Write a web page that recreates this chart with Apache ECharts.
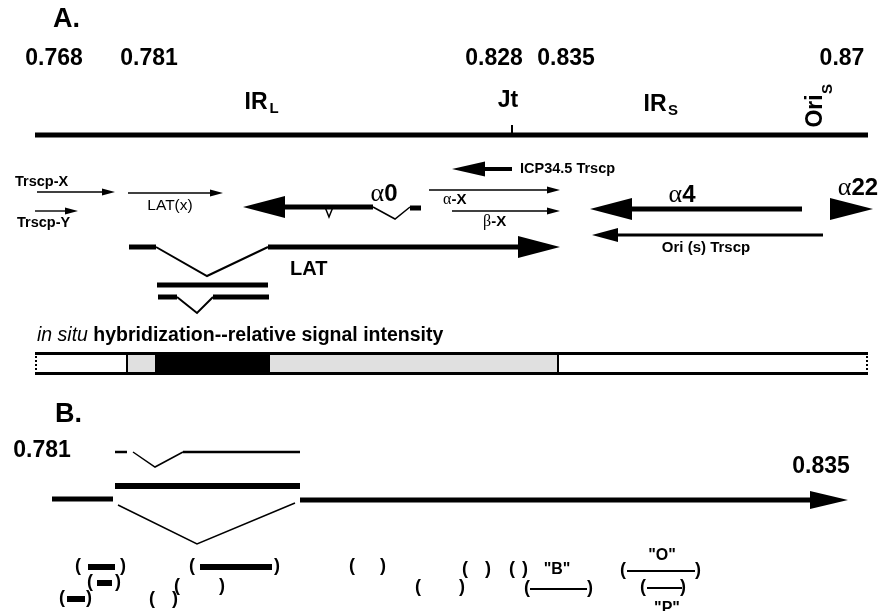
<!DOCTYPE html>
<html>
<head>
<meta charset="utf-8">
<script src="https://cdn.jsdelivr.net/npm/echarts@6/dist/echarts.min.js"></script>
<style>
html, body { margin: 0; background: #fff; }
#chart { width: 878px; height: 611px; }
</style>
</head>
<body>
<div id="chart"></div>
<script>
// schematic drawing units: x runs along the map, y runs down the page
var SANS = "'Liberation Sans', Arial, Helvetica, sans-serif";
var SERIF = "'Liberation Serif', 'DejaVu Serif', serif";

// map-unit labels over the genome line (panel A)
var mapLabels = ['0.768', '0.781', '0.828', '0.835', '0.87'];
var mapLabelX = [54, 149, 494, 566, 842];

// transcripts / genes as arrows: name, tail, tip, row, weight
var transcripts = [
  ['Trscp-X', 37, 115, 192, 'thin'],
  ['Trscp-Y', 35, 78, 211, 'thin'],
  ['LAT(x)', 128, 223, 193, 'thin'],
  ['alpha0', 373, 243, 207, 'thick'],
  ['ICP34.5', 512, 452, 169, 'icp'],
  ['alpha-X', 429, 560, 190, 'thin'],
  ['beta-X', 452, 560, 211, 'thin'],
  ['LAT', 268, 560, 247, 'thick'],
  ['alpha4', 802, 590, 209, 'thick'],
  ['alpha22', 830, 873, 209, 'headOnly'],
  ['Ori(s)', 823, 592, 235, 'ori'],
  ['LAT B', 300, 848, 500, 'b']
];

// exons, introns and other plain strokes: name, points, weight
var segments = [
  ['genome', [[35, 135], [868, 135]], 'heavy'],
  ['Jt tick', [[512, 125], [512, 135]], 'tick'],
  ['alpha0 v', [[325, 207], [329, 217], [333, 207]], 'hair'],
  ['alpha0 intron', [[373, 207], [395, 219], [410, 207]], 'hair'],
  ['alpha0 exon', [[410, 208], [421, 208]], 'heavy'],
  ['LAT exon1', [[129, 247], [156, 247]], 'heavy'],
  ['LAT intron', [[156, 247], [207, 276], [268, 247]], 'intron'],
  ['probe 1', [[157, 285], [268, 285]], 'heavy'],
  ['probe 2a', [[158, 297], [177, 297]], 'heavy'],
  ['probe 2 intron', [[177, 297], [197, 313], [213, 297]], 'intron'],
  ['probe 2b', [[213, 297], [269, 297]], 'heavy'],
  ['B dash', [[115, 452], [127, 452]], 'mid'],
  ['B splice', [[133, 452], [155, 467], [183, 452]], 'hair'],
  ['B upper', [[183, 452], [300, 452]], 'mid'],
  ['B bar', [[115, 486], [300, 486]], 'bar'],
  ['B exon1', [[52, 499], [113, 499]], 'heavy'],
  ['B intron', [[118, 505], [197, 544], [295, 503]], 'hair']
];

// in situ hybridization signal strip (boundaries and level per block)
var insituEdges = [35, 127, 155, 270, 558, 868];
var insituLevel = ['none', 'low', 'high', 'low', 'none'];

// clones under panel B: left paren, right paren, row, insert, insert start, insert end
var clones = [
  [78, 123, 566, 'bar', 88, 115],
  [90, 118, 582, 'bar', 97, 112],
  [62, 89, 598, 'bar', 67, 85],
  [192, 277, 566, 'bar', 200, 272],
  [177, 222, 586, 'none'],
  [152, 175, 599, 'none'],
  [352, 383, 566, 'none'],
  [465, 488, 569, 'none'],
  [512, 525, 569, 'none'],
  [418, 462, 587, 'none'],
  [527, 590, 588, 'line', 530, 587],
  [623, 698, 570, 'line', 627, 695],
  [643, 683, 587, 'line', 647, 682]
];

// free text: text, x, y, style
var labels = [
  ['A.', 53, 20, 'panel'],
  ['IR', 256, 103, 'big'], ['L', 274, 109, 'sub'],
  ['Jt', 508, 101, 'big'],
  ['IR', 655, 105, 'big'], ['S', 673, 111, 'sub'],
  ['Ori', 816, 111, 'bigV'], ['S', 828, 89, 'subV'],
  ['Trscp-X', 15, 182, 'small'],
  ['Trscp-Y', 17, 223, 'small'],
  ['LAT(x)', 170, 206, 'smallC'],
  ['{g|\u03b1}0', 384, 194, 'greek'],
  ['ICP34.5 Trscp', 520, 169, 'small'],
  ['{g|\u03b1}-X', 443, 200, 'greekS'],
  ['{g|\u03b2}-X', 483, 222, 'greekS'],
  ['{g|\u03b1}4', 682, 195, 'greek'],
  ['{g|\u03b1}22', 858, 188, 'greek'],
  ['Ori (s) Trscp', 706, 248, 'smallB'],
  ['LAT', 290, 269, 'lat'],
  ['{i|in situ} hybridization--relative signal intensity', 37, 336, 'insitu'],
  ['B.', 55, 415, 'panel'],
  ['0.781', 42, 451, 'big'],
  ['0.835', 821, 467, 'big'],
  ['"B"', 557, 570, 'quote'],
  ['"O"', 662, 556, 'quote'],
  ['"P"', 667, 609, 'quote']
];

var arrowStyles = {
  thin: { line: 1.4, head: 13, half: 3.5 },
  icp: { line: 4, head: 33, half: 7.5 },
  ori: { line: 3, head: 26, half: 7 },
  thick: { line: 5, head: 42, half: 11 },
  headOnly: { line: 0, head: 43, half: 11 },
  b: { line: 5, head: 38, half: 9 }
};
var strokeWidths = { heavy: 5, bar: 6, mid: 2.5, intron: 2, hair: 1.5, tick: 2 };
var insituFill = { none: '#ffffff', low: '#e0e0e0', high: '#000000' };

var textStyles = {
  panel: { fontSize: 27, fontWeight: 'bold', align: 'left' },
  big: { fontSize: 23, fontWeight: 'bold', align: 'center' },
  sub: { fontSize: 15, fontWeight: 'bold', align: 'center' },
  bigV: { fontSize: 23, fontWeight: 'bold', align: 'center', rotate: true },
  subV: { fontSize: 15, fontWeight: 'bold', align: 'center', rotate: true },
  small: { fontSize: 14.5, fontWeight: 'bold', align: 'left' },
  smallC: { fontSize: 15.5, fontWeight: 'normal', align: 'center' },
  smallB: { fontSize: 15, fontWeight: 'bold', align: 'center' },
  greek: { fontSize: 24, fontWeight: 'bold', align: 'center', g: 26 },
  greekS: { fontSize: 15, fontWeight: 'bold', align: 'left', g: 16 },
  lat: { fontSize: 20, fontWeight: 'bold', align: 'left' },
  insitu: { fontSize: 19.5, fontWeight: 'bold', align: 'left' },
  quote: { fontSize: 16, fontWeight: 'bold', align: 'center' },
  paren: { fontSize: 18, fontWeight: 'bold', align: 'center' }
};

function textEl(api, text, x, y, key) {
  var st = textStyles[key];
  var p = api.coord([x, y]);
  return {
    type: 'text',
    x: p[0], y: p[1],
    rotation: st.rotate ? Math.PI / 2 : 0,
    style: {
      text: text,
      fontFamily: SANS,
      fontSize: st.fontSize,
      fontWeight: st.fontWeight,
      fill: '#000',
      align: st.align,
      verticalAlign: 'middle',
      rich: {
        g: { fontFamily: SERIF, fontSize: st.g || st.fontSize, fontWeight: 'normal', fill: '#000' },
        i: { fontFamily: SANS, fontSize: st.fontSize, fontStyle: 'italic', fontWeight: 'normal', fill: '#000' }
      }
    }
  };
}

var allLabels = labels.concat(mapLabels.map(function (t, i) { return [t, mapLabelX[i], 59, 'big']; }));

var option = {
  animation: false,
  backgroundColor: '#ffffff',
  grid: { left: 0, right: 0, top: 0, bottom: 0 },
  xAxis: { type: 'value', min: 0, max: 878, show: false },
  yAxis: { type: 'value', min: 0, max: 611, inverse: true, show: false },
  series: [
    {
      name: 'in situ',
      type: 'custom',
      silent: true,
      data: insituLevel.map(function (lv, i) { return [insituEdges[i], 352]; }),
      renderItem: function (params, api) {
        var i = params.dataIndex;
        var a = api.coord([insituEdges[i], 352]);
        var b = api.coord([insituEdges[i + 1], 375]);
        var kids = [{
          type: 'rect',
          shape: { x: a[0], y: a[1], width: b[0] - a[0], height: b[1] - a[1] },
          style: { fill: insituFill[insituLevel[i]] }
        }];
        kids.push({ type: 'line', shape: { x1: a[0], y1: a[1] + 1.5, x2: b[0], y2: a[1] + 1.5 }, style: { stroke: '#000', lineWidth: 3 } });
        kids.push({ type: 'line', shape: { x1: a[0], y1: b[1] - 1.5, x2: b[0], y2: b[1] - 1.5 }, style: { stroke: '#000', lineWidth: 3 } });
        var first = i === 0, last = i === insituLevel.length - 1;
        if (first) {
          kids.push({ type: 'line', shape: { x1: a[0] + 1, y1: a[1], x2: a[0] + 1, y2: b[1] }, style: { stroke: '#000', lineWidth: 2, lineDash: [2, 2] } });
        } else if (insituLevel[i] === 'none' || insituLevel[i - 1] === 'none') {
          kids.push({ type: 'line', shape: { x1: a[0], y1: a[1], x2: a[0], y2: b[1] }, style: { stroke: '#000', lineWidth: 2 } });
        }
        if (last) {
          kids.push({ type: 'line', shape: { x1: b[0] - 1, y1: a[1], x2: b[0] - 1, y2: b[1] }, style: { stroke: '#000', lineWidth: 2, lineDash: [2, 2] } });
        }
        return { type: 'group', children: kids };
      }
    },
    {
      name: 'segments',
      type: 'custom',
      silent: true,
      data: segments.map(function (s) { return s[1][0]; }),
      renderItem: function (params, api) {
        var s = segments[params.dataIndex];
        return {
          type: 'polyline',
          shape: { points: s[1].map(function (p) { return api.coord(p); }) },
          style: { stroke: '#000', fill: null, lineWidth: strokeWidths[s[2]] }
        };
      }
    },
    {
      name: 'transcripts',
      type: 'custom',
      silent: true,
      data: transcripts.map(function (t) { return [t[1], t[3]]; }),
      renderItem: function (params, api) {
        var t = transcripts[params.dataIndex];
        var s = arrowStyles[t[4]];
        var a = api.coord([t[1], t[3]]);
        var b = api.coord([t[2], t[3]]);
        var dir = b[0] > a[0] ? 1 : -1;
        var base = b[0] - dir * s.head;
        var kids = [];
        if (s.line) {
          kids.push({ type: 'line', shape: { x1: a[0], y1: a[1], x2: base + dir * 2, y2: b[1] }, style: { stroke: '#000', lineWidth: s.line } });
        }
        kids.push({ type: 'polygon', shape: { points: [[b[0], b[1]], [base, b[1] - s.half], [base, b[1] + s.half]] }, style: { fill: '#000' } });
        return { type: 'group', children: kids };
      }
    },
    {
      name: 'clones',
      type: 'custom',
      silent: true,
      data: clones.map(function (c) { return [c[0], c[2]]; }),
      renderItem: function (params, api) {
        var c = clones[params.dataIndex];
        var kids = [textEl(api, '(', c[0], c[2], 'paren'), textEl(api, ')', c[1], c[2], 'paren')];
        if (c[3] !== 'none') {
          var a = api.coord([c[4], c[2] + 1]);
          var b = api.coord([c[5], c[2] + 1]);
          kids.push({ type: 'line', shape: { x1: a[0], y1: a[1], x2: b[0], y2: b[1] }, style: { stroke: '#000', lineWidth: c[3] === 'bar' ? 6 : 2 } });
        }
        return { type: 'group', children: kids };
      }
    },
    {
      name: 'labels',
      type: 'custom',
      silent: true,
      data: allLabels.map(function (l) { return [l[1], l[2]]; }),
      renderItem: function (params, api) {
        var l = allLabels[params.dataIndex];
        return textEl(api, l[0], l[1], l[2], l[3]);
      }
    }
  ]
};

var chart = echarts.init(document.getElementById('chart'));
chart.setOption(option);
</script>
</body>
</html>
